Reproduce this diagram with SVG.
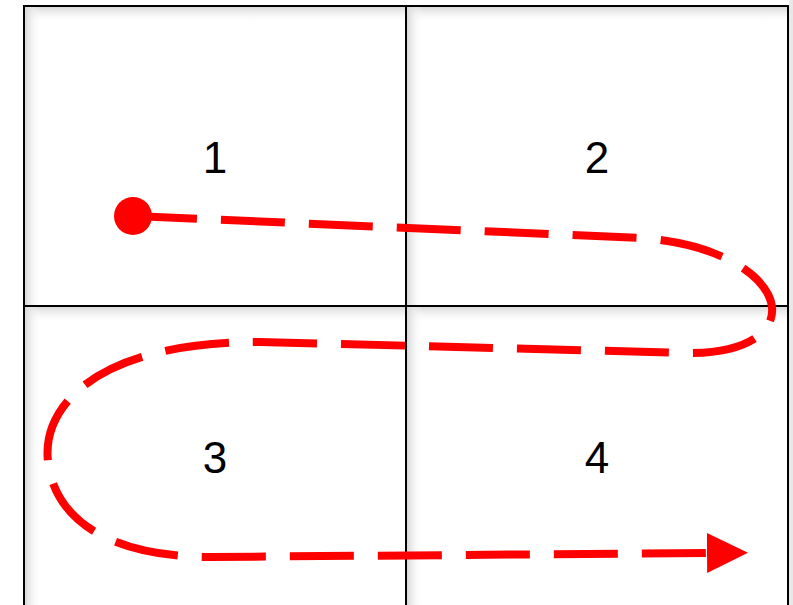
<svg xmlns="http://www.w3.org/2000/svg" width="793" height="605" viewBox="0 0 793 605">
<style>
.cell{fill:#ffffff;stroke:none}
.border{fill:none;stroke:#000000;stroke-width:2}
.num{font-family:"Liberation Sans",Arial,sans-serif;font-size:44px;fill:#000000;text-anchor:middle}
.route{fill:none;stroke:#ff0000;stroke-width:8;stroke-dasharray:64 24}
</style>
<defs>
<linearGradient id="shTop" x1="0" y1="0" x2="0" y2="1">
<stop offset="0" stop-color="#d8d8d8"/>
<stop offset="1" stop-color="#ffffff" stop-opacity="0"/>
</linearGradient>
<linearGradient id="shLeft" x1="0" y1="0" x2="1" y2="0">
<stop offset="0" stop-color="#d8d8d8"/>
<stop offset="1" stop-color="#ffffff" stop-opacity="0"/>
</linearGradient>
<marker id="arrow" markerUnits="userSpaceOnUse" markerWidth="42" markerHeight="42" refX="1" refY="20" orient="auto" viewBox="0 0 42 42">
<path d="M0,0 L41,20 L0,40 z" fill="#ff0000"/>
</marker>
</defs>
<rect x="0" y="0" width="793" height="605" fill="#ffffff"/>
<rect x="789" y="0" width="4" height="605" fill="#e8e8e8"/>
<g id="cell1">
<rect class="cell" x="24" y="6" width="382" height="300"/>
<rect x="25" y="7" width="381" height="16" fill="url(#shTop)"/>
<rect x="25" y="7" width="16" height="299" fill="url(#shLeft)"/>
<rect class="border" x="24" y="6" width="382" height="300"/>
<text class="num" x="215" y="173">1</text>
</g>
<g id="cell2">
<rect class="cell" x="406" y="6" width="382" height="300"/>
<rect x="407" y="7" width="381" height="16" fill="url(#shTop)"/>
<rect x="407" y="7" width="16" height="299" fill="url(#shLeft)"/>
<rect class="border" x="406" y="6" width="382" height="300"/>
<text class="num" x="597" y="173">2</text>
</g>
<g id="cell3">
<rect class="cell" x="24" y="306" width="382" height="300"/>
<rect x="25" y="307" width="381" height="16" fill="url(#shTop)"/>
<rect x="25" y="307" width="16" height="299" fill="url(#shLeft)"/>
<rect class="border" x="24" y="306" width="382" height="300"/>
<text class="num" x="215" y="473">3</text>
</g>
<g id="cell4">
<rect class="cell" x="406" y="306" width="382" height="300"/>
<rect x="407" y="307" width="381" height="16" fill="url(#shTop)"/>
<rect x="407" y="307" width="16" height="299" fill="url(#shLeft)"/>
<rect class="border" x="406" y="306" width="382" height="300"/>
<text class="num" x="597" y="473">4</text>
</g>
<g id="connectors">
<circle cx="133" cy="216" r="19" fill="#ff0000"/>
<path class="route" marker-end="url(#arrow)" d="M133,216 L640,238 C790,248 820,352 690,353 L420,346 L260,342 C90,342 42,410 48,462 C55,520 110,557 210,557 L708,553"/>
</g>
</svg>
